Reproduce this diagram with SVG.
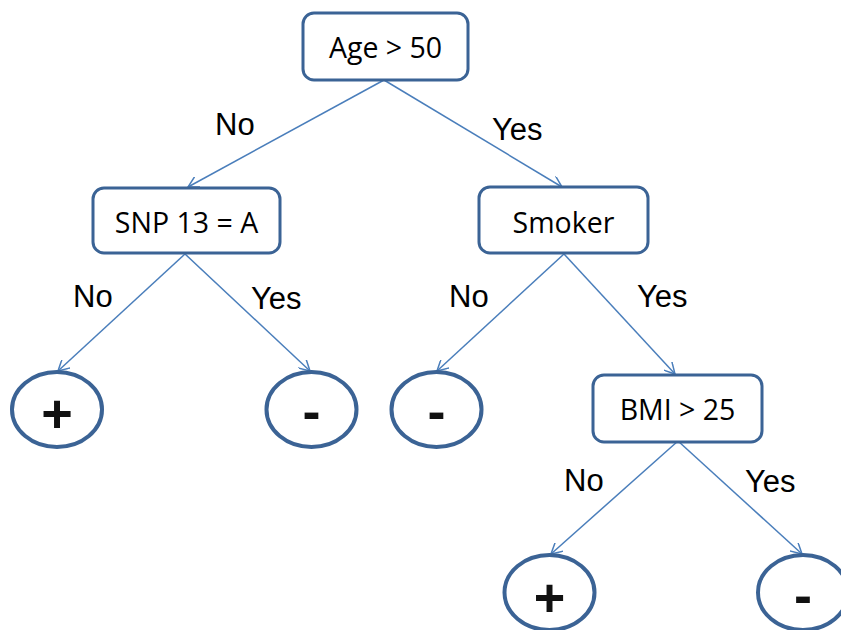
<svg xmlns="http://www.w3.org/2000/svg" width="841" height="630" viewBox="0 0 841 630">
  <defs>
    <marker id="arrow" viewBox="0 0 12 12" refX="11" refY="6" markerWidth="12" markerHeight="12" markerUnits="userSpaceOnUse" orient="auto">
      <path d="M0,0 L11,6 L0,12" fill="none" stroke="#4a7ebb" stroke-width="1.5"/>
    </marker>
  </defs>
  <style>
    .box { fill: #ffffff; stroke: #3b6395; stroke-width: 3; }
    .leaf { fill: #ffffff; stroke: #3b6395; stroke-width: 4; }
    .edge { fill: none; stroke: #4a7ebb; stroke-width: 1.5; marker-end: url(#arrow); }
    .node-text { font-family: "Open Sans", "Liberation Sans", sans-serif; font-size: 28.5px; fill: #000000; text-anchor: middle; }
    .sign { font-family: "Liberation Sans", Arial, sans-serif; font-size: 54px; font-weight: bold; fill: #111111; text-anchor: middle; }
    .label { font-family: "Liberation Sans", Arial, sans-serif; font-size: 31px; fill: #000000; }
  </style>
  <rect width="841" height="630" fill="#ffffff"/>

  <!-- connectors -->
  <g id="edges">
    <line class="edge" x1="384" y1="80" x2="188" y2="187"/>
    <line class="edge" x1="384" y1="80" x2="562" y2="187"/>
    <line class="edge" x1="185" y1="254" x2="58" y2="371"/>
    <line class="edge" x1="185" y1="254" x2="310" y2="371"/>
    <line class="edge" x1="564" y1="254" x2="437" y2="371"/>
    <line class="edge" x1="564" y1="254" x2="675" y2="374"/>
    <line class="edge" x1="678" y1="441" x2="551" y2="554"/>
    <line class="edge" x1="678" y1="441" x2="802" y2="554"/>
  </g>

  <!-- edge labels -->
  <g id="edge-labels">
    <text class="label" x="215" y="135">No</text>
    <text class="label" x="492" y="140">Yes</text>
    <text class="label" x="73" y="307">No</text>
    <text class="label" x="251" y="309">Yes</text>
    <text class="label" x="449" y="307">No</text>
    <text class="label" x="637" y="307">Yes</text>
    <text class="label" x="564" y="491">No</text>
    <text class="label" x="745" y="492">Yes</text>
  </g>

  <g id="age">
    <rect class="box" x="303" y="13" width="165" height="67" rx="11"/>
    <text class="node-text" x="385.5" y="58">Age &gt; 50</text>
  </g>
  <g id="snp">
    <rect class="box" x="93" y="188" width="187" height="65" rx="11"/>
    <text class="node-text" x="186.5" y="233">SNP 13 = A</text>
  </g>
  <g id="smoker">
    <rect class="box" x="479" y="187" width="169" height="66" rx="11"/>
    <text class="node-text" x="563.5" y="233">Smoker</text>
  </g>
  <g id="bmi">
    <rect class="box" x="593" y="375" width="169" height="67" rx="11"/>
    <text class="node-text" x="677.5" y="420">BMI &gt; 25</text>
  </g>

  <g id="leaf-snp-no">
    <ellipse class="leaf" cx="57" cy="409.5" rx="45" ry="37.5"/>
    <text class="sign" x="57" y="432">+</text>
  </g>
  <g id="leaf-snp-yes">
    <ellipse class="leaf" cx="311.5" cy="409.5" rx="45" ry="37.5"/>
    <text class="sign" x="311.5" y="430">-</text>
  </g>
  <g id="leaf-smoker-no">
    <ellipse class="leaf" cx="436.5" cy="409.5" rx="45" ry="37.5"/>
    <text class="sign" x="436.5" y="430">-</text>
  </g>
  <g id="leaf-bmi-no">
    <ellipse class="leaf" cx="549.5" cy="592.5" rx="45" ry="37.5"/>
    <text class="sign" x="549.5" y="616">+</text>
  </g>
  <g id="leaf-bmi-yes">
    <ellipse class="leaf" cx="803" cy="592.5" rx="45" ry="37.5"/>
    <text class="sign" x="803" y="614">-</text>
  </g>
</svg>
